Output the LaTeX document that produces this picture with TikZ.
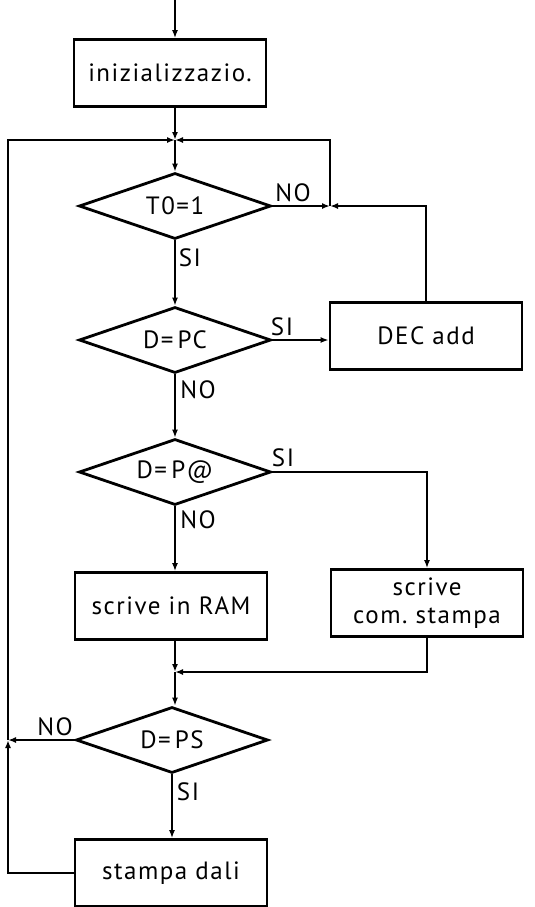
\documentclass[tikz,border=0pt]{standalone}
\usepackage{fontspec}
\setmainfont[LetterSpace=6]{PT Sans}
\usetikzlibrary{shapes.geometric,arrows.meta}
\begin{document}
\begin{tikzpicture}[
        x=0.5pt, y=-0.5pt,
        every node/.style={font=\fontsize{12.5}{14}\selectfont},
        box/.style={draw, rectangle, line width=1.4pt, minimum width=96pt, minimum height=33.5pt, align=center, inner sep=2pt},
        cond/.style={draw, diamond, line width=1.4pt, minimum width=96pt, minimum height=33pt, aspect=3, inner sep=0pt},
        lbl/.style={draw=none, inner sep=1pt},
        line/.style={draw, line width=0.8pt, -{Latex[length=4pt,width=3pt]}},
    ]
    \useasboundingbox (0,0) rectangle (535,907);
    \coordinate (start) at (175,0);
    \node[box](init) at (170,73){inizializzazio.};
    \coordinate (j1) at (175,140);
    \node[cond](t0) at (175,206){T0=1};
    \coordinate (j2) at (330,206);
    \node[cond](pc) at (175,340){D=\,PC};
    \node[box](dec) at (426,336){DEC add};
    \node[cond](pa) at (175,472){D=\,P@};
    \node[box](ram) at (171,606){scrive in RAM};
    \node[box](cs) at (427,603){scrive\\com.\ stampa};
    \coordinate (j3) at (175,672);
    \node[cond](ps) at (172,740){D=\,PS};
    \coordinate (j4) at (8,740);
    \node[box](sd) at (171,873){stampa dali};
    \node[lbl](no1) at (293,193){NO};
    \node[lbl](si1) at (190,258){SI};
    \node[lbl](si2) at (282,327){SI};
    \node[lbl](no2) at (198,390){NO};
    \node[lbl](si3) at (283,458){SI};
    \node[lbl](no3) at (198,520){NO};
    \node[lbl](no4) at (55,727){NO};
    \node[lbl](si4) at (188,792){SI};
    \draw[line] (start) -- (init.north -| start);
    \draw[line] (init.south -| j1) -- (j1);
    \draw[line] (j1) -- (t0.north);
    \draw[line] (t0.east) -- (j2);
    \draw[line] (dec.north) |- (j2);
    \draw[line] (j2) |- (j1);
    \draw[line] (t0.south) -- (pc.north);
    \draw[line] (pc.east) -- (pc.east -| dec.west);
    \draw[line] (pc.south) -- (pa.north);
    \draw[line] (pa.east) -| (cs.north);
    \draw[line] (pa.south) -- (ram.north -| pa.south);
    \draw[line] (ram.south -| j3) -- (j3);
    \draw[line] (cs.south) |- (j3);
    \draw[line] (j3) -- (ps.north -| j3);
    \draw[line] (ps.south) -- (sd.north -| ps.south);
    \draw[line] (ps.west) -- (j4);
    \draw[line] (sd.west) -| (j4);
    \draw[line] (j4) |- (j1);
\end{tikzpicture}
\end{document}
